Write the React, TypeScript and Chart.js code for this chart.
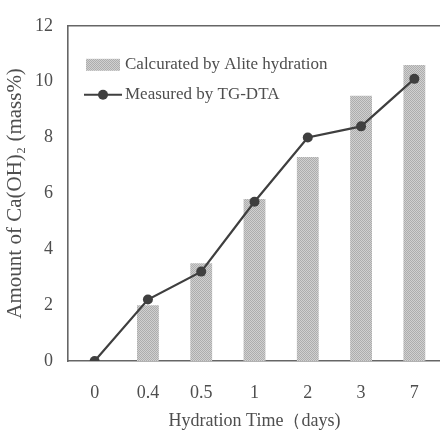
import { useEffect, useRef } from "react";
import { Chart, registerables } from "chart.js";

Chart.register(...registerables);

// Hydration ages (days) shown as categories
const hydrationDays = ["0", "0.4", "0.5", "1", "2", "3", "7"];
// Ca(OH)2 content calculated from alite hydration (mass%)
const calculatedByAlite = [null, 2.0, 3.5, 5.8, 7.3, 9.5, 10.6];
// Ca(OH)2 content measured by TG-DTA (mass%)
const measuredByTgDta = [0, 2.2, 3.2, 5.7, 8.0, 8.4, 10.1];
// Value axis range
const yMin = 0;
const yMax = 12;
const yStep = 2;

const SERIF = "'Liberation Serif', 'Times New Roman', serif";
const TEXT = "#4e4e4e";
const AXIS = "#666666";
const LINE = "#3f3f3f";

// Fine grey halftone used to fill the bars
function makeHalftone(): CanvasPattern | string {
  const tile = document.createElement("canvas");
  tile.width = 2;
  tile.height = 2;
  const g = tile.getContext("2d");
  if (!g) return "#bdbdbd";
  g.fillStyle = "#d0d0d0";
  g.fillRect(0, 0, 2, 2);
  g.fillStyle = "#adadad";
  g.fillRect(0, 0, 1, 1);
  g.fillRect(1, 1, 1, 1);
  return g.createPattern(tile, "repeat") || "#bdbdbd";
}

// Frame line along the top of the plot area
const topFrame = {
  id: "topFrame",
  afterDatasetsDraw(chart: any) {
    const { ctx, chartArea } = chart;
    ctx.save();
    ctx.strokeStyle = AXIS;
    ctx.lineWidth = 1.6;
    ctx.beginPath();
    ctx.moveTo(chartArea.left, chartArea.top);
    ctx.lineTo(chartArea.right, chartArea.top);
    ctx.stroke();
    ctx.restore();
  },
};

// Legend drawn inside the upper-left corner of the plot area
const innerLegend = {
  id: "innerLegend",
  afterDraw(chart: any) {
    const { ctx, chartArea } = chart;
    const [bars, line] = chart.data.datasets;
    const x0 = chartArea.left + 18;
    const textX = chartArea.left + 57;
    const row1 = chartArea.top + 39;
    const row2 = chartArea.top + 69;
    ctx.save();
    ctx.fillStyle = bars.backgroundColor;
    ctx.fillRect(x0, row1 - 6, 34, 12);

    ctx.strokeStyle = LINE;
    ctx.lineWidth = 2;
    ctx.beginPath();
    ctx.moveTo(x0 - 2, row2);
    ctx.lineTo(x0 + 36, row2);
    ctx.stroke();
    ctx.fillStyle = LINE;
    ctx.beginPath();
    ctx.arc(x0 + 17, row2, 5, 0, Math.PI * 2);
    ctx.fill();

    ctx.fillStyle = TEXT;
    ctx.font = `17px ${SERIF}`;
    ctx.textBaseline = "middle";
    ctx.textAlign = "left";
    ctx.fillText(bars.label, textX, row1);
    ctx.fillText(line.label, textX, row2);
    ctx.restore();
  },
};

export default function App() {
  const canvasRef = useRef<HTMLCanvasElement | null>(null);

  useEffect(() => {
    const canvas = canvasRef.current;
    if (!canvas) return;
    const halftone = makeHalftone();

    const chart = new Chart(canvas, {
      type: "bar",
      data: {
        labels: hydrationDays,
        datasets: [
          {
            type: "bar",
            label: "Calcurated by Alite hydration",
            data: calculatedByAlite,
            backgroundColor: halftone as any,
            borderWidth: 0,
            barPercentage: 0.41,
            categoryPercentage: 1,
            order: 2,
          },
          {
            type: "line",
            label: "Measured by TG-DTA",
            data: measuredByTgDta,
            borderColor: LINE,
            borderWidth: 2.2,
            backgroundColor: LINE,
            pointBackgroundColor: LINE,
            pointBorderColor: LINE,
            pointRadius: 5,
            pointBorderWidth: 0,
            tension: 0,
            order: 1,
          } as any,
        ],
      },
      options: {
        responsive: false,
        maintainAspectRatio: false,
        animation: false,
        events: [],
        layout: { padding: { top: 16, right: 4, left: 0, bottom: 0 } },
        plugins: {
          legend: { display: false },
          tooltip: { enabled: false },
          title: { display: false },
        },
        scales: {
          x: {
            offset: true,
            grid: { display: false, drawTicks: false },
            border: { display: true, color: AXIS, width: 1.6 },
            ticks: {
              color: TEXT,
              font: { family: SERIF, size: 18 },
              padding: 21,
              maxRotation: 0,
              autoSkip: false,
            },
            title: {
              display: true,
              text: "Hydration Time（days)",
              color: TEXT,
              font: { family: SERIF, size: 18 },
              padding: { top: 0, bottom: 0 },
            },
            afterFit(scale: any) {
              scale.height = 71;
            },
          },
          y: {
            min: yMin,
            max: yMax,
            grid: { display: false, drawTicks: false },
            border: { display: true, color: AXIS, width: 1.6 },
            ticks: {
              stepSize: yStep,
              color: TEXT,
              font: { family: SERIF, size: 18 },
              padding: 15,
            },
            title: {
              display: true,
              text: "Amount of Ca(OH)₂ (mass%)",
              color: TEXT,
              font: { family: SERIF, size: 21 },
              padding: { top: 3, bottom: 0 },
            },
            afterFit(scale: any) {
              scale.width = 68;
            },
          },
        },
      },
      plugins: [topFrame, innerLegend],
    });

    return () => chart.destroy();
  }, []);

  return (
    <div
      style={{
        position: "absolute",
        left: 0,
        top: 0,
        width: 440,
        height: 432,
        overflow: "hidden",
        background: "#ffffff",
      }}
    >
      <canvas ref={canvasRef} width={446} height={432} style={{ display: "block" }} />
    </div>
  );
}
